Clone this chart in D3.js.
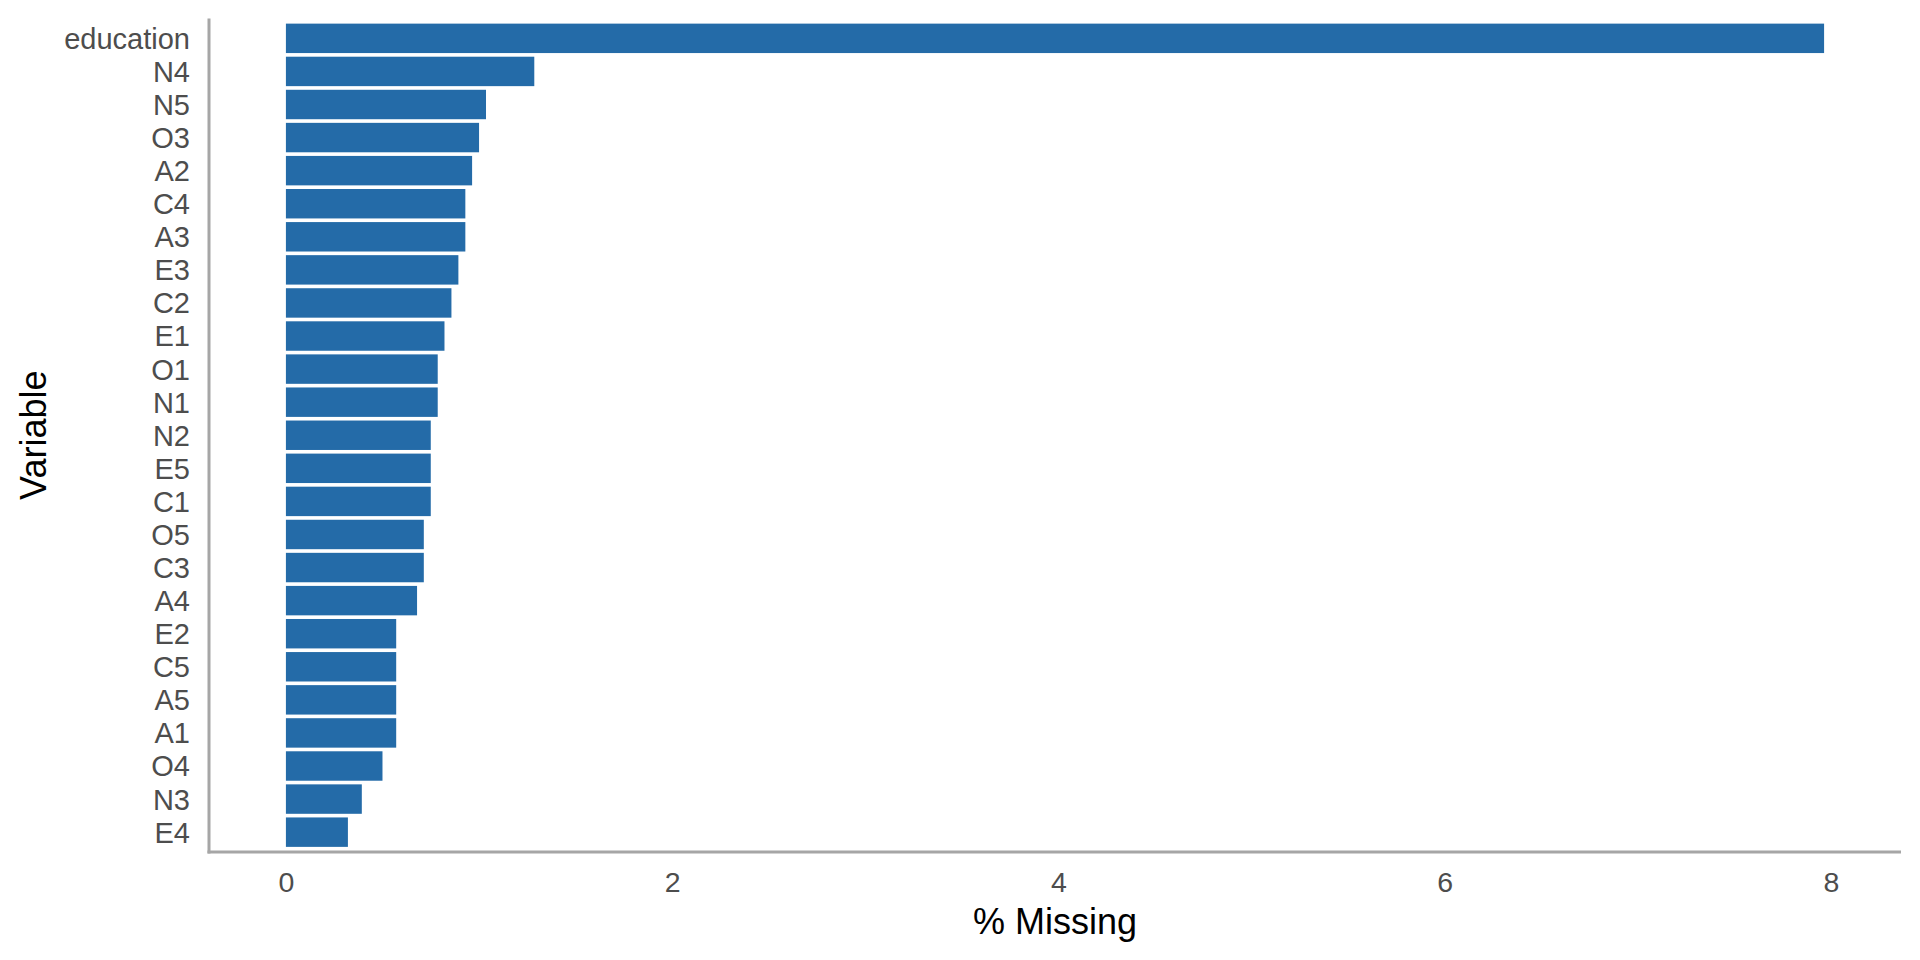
<!DOCTYPE html>
<html><head><meta charset="utf-8">
<script src="https://cdn.jsdelivr.net/npm/d3@7"></script>
<style>
html,body{margin:0;padding:0;background:#fff;}
svg{display:block;}
</style></head>
<body>
<svg id="chart" width="1920" height="960"></svg>
<script>
const variables = ["education","N4","N5","O3","A2","C4","A3","E3","C2","E1","O1","N1","N2","E5","C1","O5","C3","A4","E2","C5","A5","A1","O4","N3","E4"];
const pctMissing = [7.964,1.286,1.036,1.000,0.964,0.929,0.929,0.893,0.857,0.821,0.786,0.786,0.750,0.750,0.750,0.714,0.714,0.679,0.571,0.571,0.571,0.571,0.500,0.393,0.321];
const xTicks = [0,2,4,6,8];

const data = variables.map((v,i)=>({name:v, value:pctMissing[i]}));
const svg = d3.select("#chart");
const font = "'Liberation Sans', Arial, Helvetica, sans-serif";

const plotLeft = 209, plotRight = 1901, plotTop = 18.5, plotBottom = 852;
const maxV = d3.max(pctMissing);
const pad = maxV*0.05;
const x = d3.scaleLinear().domain([-pad, maxV+pad]).range([plotLeft, plotRight]);

const n = variables.length;
const step = (plotBottom-plotTop)/(n-1+1.2);
const y = d3.scaleBand().domain(variables)
  .range([plotTop + 0.6*step - step/2, plotBottom - 0.6*step + step/2])
  .paddingInner(0.11).paddingOuter(0.055);

svg.append("g").selectAll("rect").data(data).join("rect")
  .attr("x", x(0))
  .attr("y", d=>y(d.name))
  .attr("width", d=>x(d.value)-x(0))
  .attr("height", y.bandwidth())
  .attr("fill","#246ba8");

// axes
const xAxis = d3.axisBottom(x).tickValues(xTicks).tickSize(0).tickPadding(20).tickFormat(d3.format("d"));
const gx = svg.append("g").attr("transform",`translate(0,${plotBottom})`).call(xAxis);
gx.select(".domain").remove();
gx.selectAll("text").attr("font-family",font).attr("font-size",28.5).attr("fill","#4d4d4d");

const yAxis = d3.axisLeft(y).tickSize(0).tickPadding(19);
const gy = svg.append("g").attr("transform",`translate(${plotLeft},0)`).call(yAxis);
gy.select(".domain").remove();
gy.selectAll("text").attr("font-family",font).attr("font-size",29).attr("dy","0.36em").attr("fill","#4d4d4d");

svg.append("line").attr("x1",plotLeft).attr("x2",plotLeft).attr("y1",plotTop).attr("y2",plotBottom+1.5)
  .attr("stroke","#a6a6a6").attr("stroke-width",3);
svg.append("line").attr("x1",plotLeft-1.5).attr("x2",plotRight).attr("y1",plotBottom).attr("y2",plotBottom)
  .attr("stroke","#a6a6a6").attr("stroke-width",3);

svg.append("text").attr("x",(plotLeft+plotRight)/2).attr("y",934)
  .attr("text-anchor","middle").attr("font-family",font).attr("font-size",36).attr("fill","#000")
  .text("% Missing");
svg.append("text").attr("transform",`translate(45.5,${(plotTop+plotBottom)/2}) rotate(-90)`)
  .attr("text-anchor","middle").attr("font-family",font).attr("font-size",36).attr("fill","#000")
  .text("Variable");
</script>
</body></html>
